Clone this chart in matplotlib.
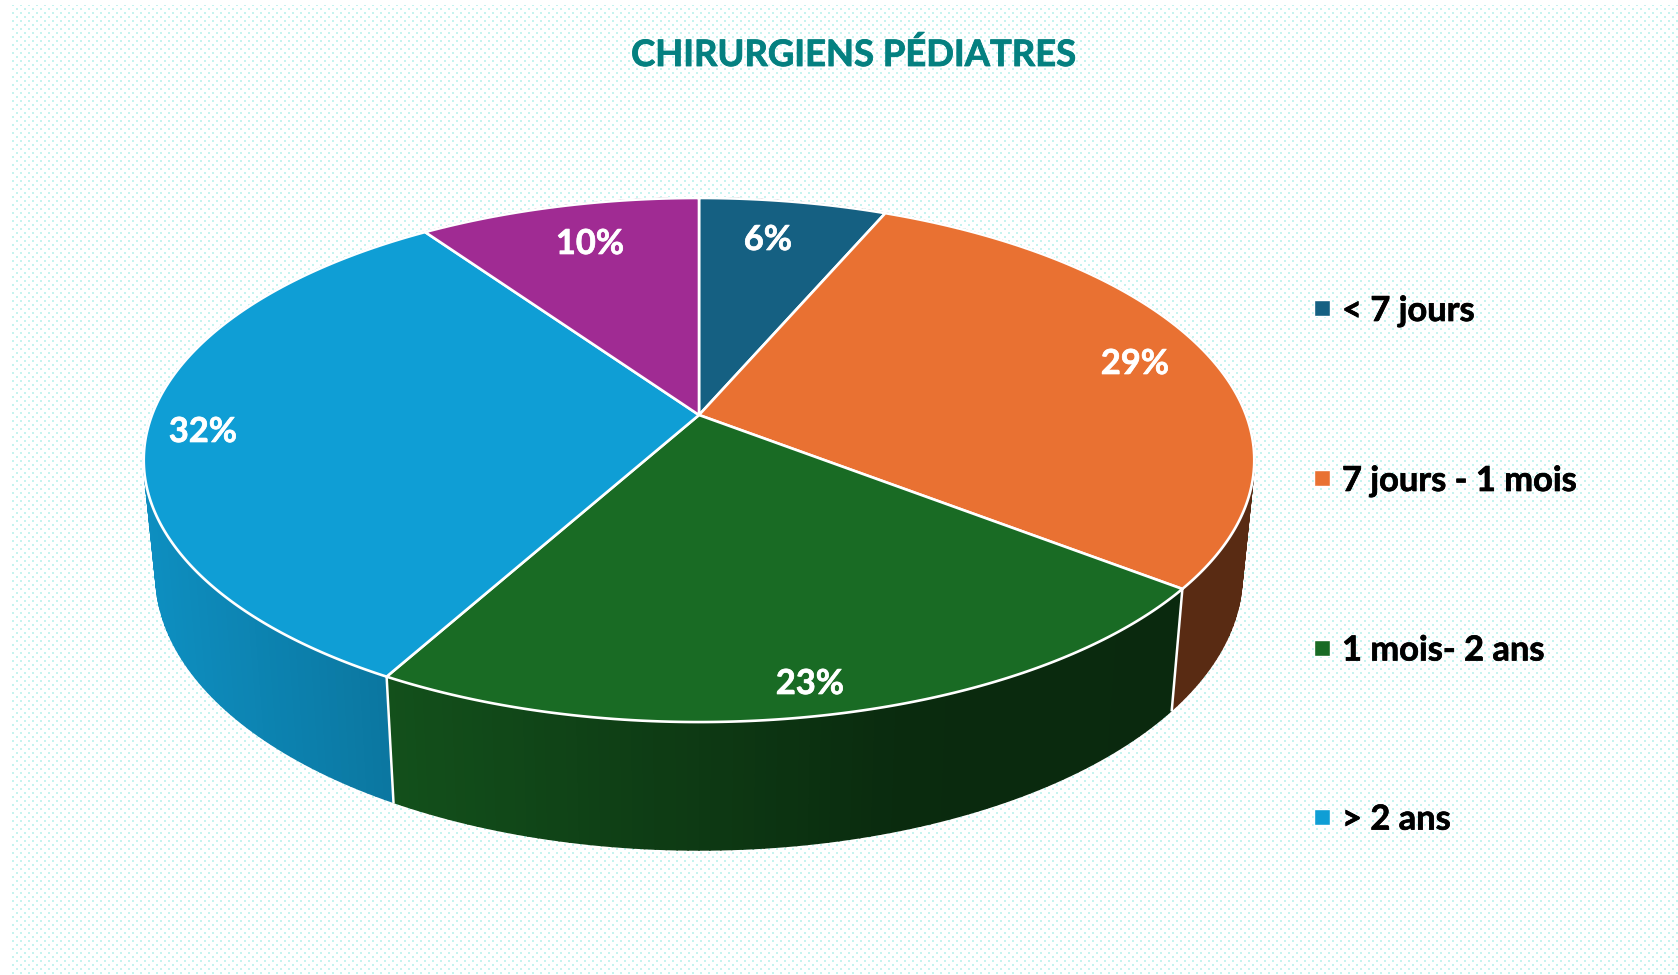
import numpy as np
import matplotlib
matplotlib.use("Agg")
import matplotlib.pyplot as plt
import matplotlib.patheffects as pe
from matplotlib.patches import Polygon, Rectangle

# Data
categories = ['< 7 jours', '7 jours - 1 mois', '1 mois- 2 ans', '> 2 ans', '']
counts = [2, 9, 7, 10, 3]
colors = ['#156082', '#E97132', '#196B24', '#0F9ED5', '#A02B93']
label_xy = [(768, 240), (1135, 364), (810, 684), (203, 432), (590, 244)]

plt.rcParams['font.family'] = ['Lato', 'DejaVu Sans']

W, H = 1678, 975
fig = plt.figure(figsize=(W / 100, H / 100), dpi=100, facecolor='white')

ax = fig.add_axes([0, 0, 1, 1])

# Dotted background
bg = np.ones((H, W, 3))
dot = np.array([0xC6, 0xF3, 0xEF]) / 255
yy, xx = np.mgrid[0:H, 0:W]
mask = ((xx % 8 < 2) & (yy % 8 < 2)) | (((xx + 4) % 8 < 2) & ((yy + 4) % 8 < 2))
mask &= (xx >= 11) & (yy >= 5)
bg[mask] = dot
ax.imshow(bg, extent=(0, W, H, 0), interpolation='nearest', aspect='auto', zorder=0)

ax.set_xlim(0, W)
ax.set_ylim(H, 0)
ax.axis('off')


# Perspective disc: angle clockwise from the top -> pixel position
def top_disc(a):
    u, v = np.sin(a), np.cos(a)
    w = 1 + 0.1718 * v
    return 699 + 547 * u / w, 415 - 254.3 * v / w


def bottom_disc(a):
    u, v = np.sin(a), np.cos(a)
    w = 1 + 0.1718 * v
    return 699 + 535 * u / w, 527.5 - 267 * v / w


def shade(color, x):
    f = np.interp(x, [150, 390, 900, 1250], [0.9, 0.75, 0.40, 0.38])
    return tuple(np.array(matplotlib.colors.to_rgb(color)) * f)


frac = np.cumsum([0] + counts) / sum(counts) * 2 * np.pi

# Side wall, strips from back to front
strips = []
for i in range(len(counts)):
    edges = np.linspace(frac[i], frac[i + 1], max(int(counts[i] * 12), 2) + 1)
    for a0, a1 in zip(edges[:-1], edges[1:]):
        strips.append((a0, a1, colors[i]))
strips.sort(key=lambda s: -np.cos((s[0] + s[1]) / 2))
for a0, a1, c in strips:
    x0, y0 = top_disc(a0)
    x1, y1 = top_disc(a1)
    x2, y2 = bottom_disc(a1)
    x3, y3 = bottom_disc(a0)
    col = shade(c, (x0 + x1) / 2)
    ax.add_patch(Polygon([(x0, y0), (x1, y1), (x2, y2), (x3, y3)], closed=True,
                         facecolor=col, edgecolor=col, lw=1.2, zorder=2))

# White lines between the wall segments (front ones only)
for a in frac[1:-1]:
    if np.cos(a) < 0:
        x0, y0 = top_disc(a)
        x1, y1 = bottom_disc(a)
        ax.plot([x0, x1], [y0, y1], color='white', lw=1.8, zorder=3)

# Top of the pie
for i in range(len(counts)):
    t = np.linspace(frac[i], frac[i + 1], 200)
    x, y = top_disc(t)
    pts = [(699, 415)] + list(zip(x, y))
    ax.add_patch(Polygon(pts, closed=True, facecolor=colors[i], edgecolor='white',
                         lw=1.9, joinstyle='round', zorder=4))

# Percent labels
for i in range(len(counts)):
    pct = round(counts[i] / sum(counts) * 100)
    t = ax.text(label_xy[i][0], label_xy[i][1], f'{pct}%', color='white', fontsize=24.8,
                fontweight='bold', ha='center', va='center', zorder=5)
    t.set_path_effects([pe.withStroke(linewidth=0.5, foreground='white')])

# Title
t = ax.text(853, 55, 'CHIRURGIENS PÉDIATRES', color='#048080', fontsize=26.2,
            fontweight='bold', ha='center', va='center', zorder=5)
t.set_path_effects([pe.withStroke(linewidth=0.6, foreground='#048080')])

# Legend
legend_y = [308, 478, 647.5, 816.6]
for i, name in enumerate(categories[:4]):
    ax.add_patch(Rectangle((1314, legend_y[i] - 8), 16, 16, facecolor=colors[i],
                           edgecolor='white', lw=1.0, zorder=5))
    t = ax.text(1342, legend_y[i] + 3, name, color='black', fontsize=24.8, fontweight='bold',
                ha='left', va='center', zorder=5)
    t.set_path_effects([pe.withStroke(linewidth=0.5, foreground='black')])

fig.savefig('out.png', dpi=100)
